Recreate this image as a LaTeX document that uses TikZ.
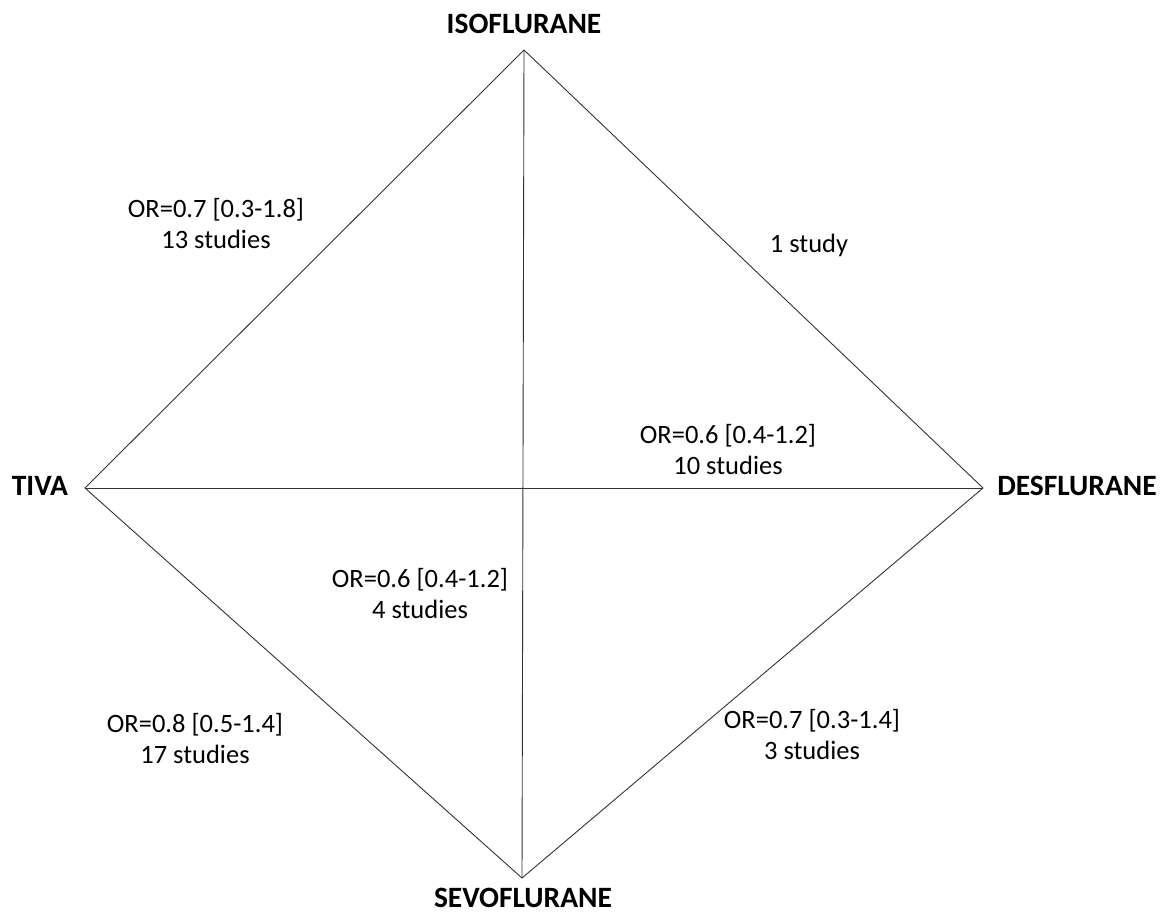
\documentclass[tikz,border=0pt]{standalone}
\usepackage{fontspec}
\setmainfont{Carlito}
\begin{document}
\begin{tikzpicture}[x=1pt,y=-1pt,
  edge/.style={draw=black!80,line width=0.9pt},
  drug/.style={font=\fontsize{29.5}{34}\selectfont\bfseries,inner sep=0pt,anchor=base},
  lab/.style={font=\fontsize{26.5}{30.5}\selectfont,align=center,inner sep=0pt,anchor=base}]
\useasboundingbox (0,0) rectangle (1165,914);
\coordinate (T) at (524,50);
\coordinate (B) at (522,878);
\coordinate (L) at (85,488);
\coordinate (R) at (983,488);
\draw[edge] (T) -- (R) -- (B) -- (L) -- cycle;
\draw[edge] (T) -- (B);
\draw[edge] (L) -- (R);
\node[drug] (iso) at (524,33) {ISOFLURANE};
\node[drug] (tiva) at (40,495) {TIVA};
\node[drug] (des) at (1077,495) {DESFLURANE};
\node[drug] (sevo) at (523,907) {SEVOFLURANE};
\node[lab] (l1) at (216,248) {OR=0.7 [0.3-1.8]\\13 studies};
\node[lab] (l2) at (809,252) {1 study};
\node[lab] (l3) at (728,474) {OR=0.6 [0.4-1.2]\\10 studies};
\node[lab] (l4) at (420,618) {OR=0.6 [0.4-1.2]\\4 studies};
\node[lab] (l5) at (195,763) {OR=0.8 [0.5-1.4]\\17 studies};
\node[lab] (l6) at (812,759) {OR=0.7 [0.3-1.4]\\3 studies};
\end{tikzpicture}
\end{document}
